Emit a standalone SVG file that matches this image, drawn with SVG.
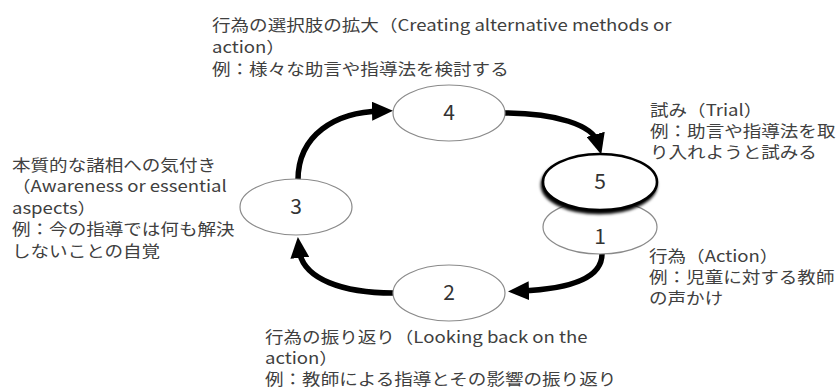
<svg xmlns="http://www.w3.org/2000/svg" width="839" height="389" viewBox="0 0 839 389">
<defs>
<style>
.lbl{font-family:"Noto Sans CJK JP","Noto Sans",sans-serif;font-size:16px;fill:#404040}
.num{font-family:"Noto Sans CJK JP","Noto Sans",sans-serif;font-size:21px;fill:#333;text-anchor:middle}
.ell{fill:#fff;stroke:#8a8a8a;stroke-width:1.2}
.ell5{fill:#fff;stroke:#000;stroke-width:2.6}
.arr{fill:none;stroke:#000;stroke-width:5.5}
</style>
<marker id="ah" markerUnits="userSpaceOnUse" markerWidth="21" markerHeight="19" viewBox="0 0 21 19" refX="9" refY="9.5" orient="auto">
<path d="M0,0 L21,9.5 L0,19 z" fill="#000"/>
</marker>
<filter id="sh" x="-20%" y="-20%" width="140%" height="160%">
<feGaussianBlur in="SourceAlpha" stdDeviation="1.6"/>
<feOffset dx="-1" dy="2.5" result="b"/>
<feMerge><feMergeNode in="b"/><feMergeNode in="SourceGraphic"/></feMerge>
</filter>
</defs>
<rect width="839" height="389" fill="#fff"/>
<g id="connectors">
<path class="arr" d="M298,180 C298,135 335,112 381,111" marker-end="url(#ah)"/>
<path class="arr" d="M505,113 C555,113 593,125 598,143" marker-end="url(#ah)"/>
<path class="arr" d="M602,254 C602,278 570,289 520,291" marker-end="url(#ah)"/>
<path class="arr" d="M393,293 C345,293 302,280 299,249" marker-end="url(#ah)"/>
</g>
<g id="node4">
<ellipse class="ell" cx="449" cy="113" rx="56" ry="28"/>
<text class="num" x="449" y="120">4</text>
<text class="lbl" transform="matrix(1.16 0 0 1 212 31)"><tspan x="0" y="0">行為の選択肢の拡大（Creating alternative methods or</tspan><tspan x="0" y="22">action）</tspan><tspan x="0" y="44">例：様々な助言や指導法を検討する</tspan></text>
</g>
<g id="node3">
<ellipse class="ell" cx="296" cy="207" rx="56" ry="28"/>
<text class="num" x="296" y="214">3</text>
<text class="lbl" transform="matrix(1.16 0 0 1 12 171)"><tspan x="0" y="0">本質的な諸相への気付き</tspan><tspan x="0" y="21.5">（Awareness or essential</tspan><tspan x="0" y="43">aspects）</tspan><tspan x="0" y="64.5">例：今の指導では何も解決</tspan><tspan x="0" y="86">しないことの自覚</tspan></text>
</g>
<g id="node2">
<ellipse class="ell" cx="449" cy="293" rx="56" ry="28"/>
<text class="num" x="449" y="300">2</text>
<text class="lbl" transform="matrix(1.16 0 0 1 265 343)"><tspan x="0" y="0">行為の振り返り（Looking back on the</tspan><tspan x="0" y="21">action）</tspan><tspan x="0" y="42">例：教師による指導とその影響の振り返り</tspan></text>
</g>
<g id="node1">
<ellipse class="ell" cx="600" cy="227" rx="57" ry="27"/>
<text class="num" x="600" y="244">1</text>
<text class="lbl" transform="matrix(1.16 0 0 1 649 262)"><tspan x="0" y="0">行為（Action）</tspan><tspan x="0" y="21">例：児童に対する教師</tspan><tspan x="0" y="42">の声かけ</tspan></text>
</g>
<g id="node5">
<ellipse class="ell5" cx="600" cy="182" rx="57" ry="28" filter="url(#sh)"/>
<text class="num" x="600" y="189">5</text>
<text class="lbl" transform="matrix(1.16 0 0 1 650 116)"><tspan x="0" y="0">試み（Trial）</tspan><tspan x="0" y="21">例：助言や指導法を取</tspan><tspan x="0" y="42">り入れようと試みる</tspan></text>
</g>
</svg>
